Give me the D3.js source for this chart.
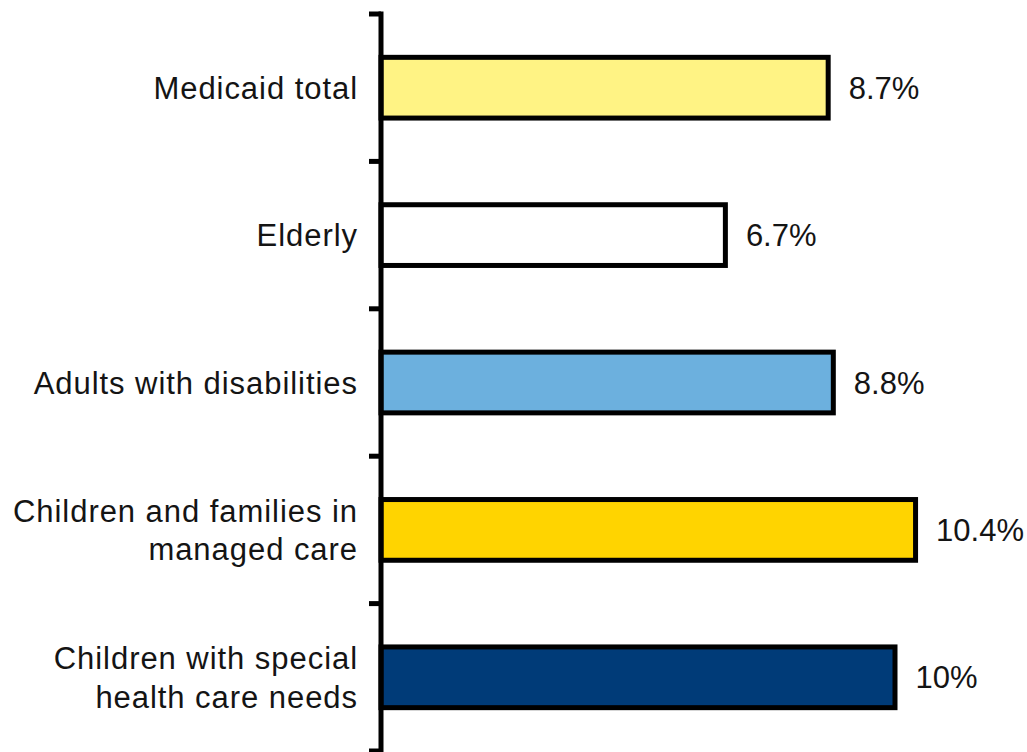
<!DOCTYPE html>
<html>
<head>
<meta charset="utf-8">
<script src="https://cdn.jsdelivr.net/npm/d3@7/dist/d3.min.js"></script>
<style>
  html, body { margin: 0; padding: 0; background: #ffffff; }
  svg { display: block; }
  text { font-family: "Liberation Sans", Arial, sans-serif; fill: #141414; }
</style>
</head>
<body>
<svg id="chart" width="1027" height="752"></svg>
<script>
// Medicaid spending growth by eligibility group
const categories = [
  "Medicaid total",
  "Elderly",
  "Adults with disabilities",
  "Children and families in\nmanaged care",
  "Children with special\nhealth care needs"
];
const values = [8.7, 6.7, 8.8, 10.4, 10];
const valueLabels = ["8.7%", "6.7%", "8.8%", "10.4%", "10%"];
const fills = ["#FFF384", "#FFFFFF", "#6CB0DE", "#FFD400", "#003B78"];

const svg = d3.select("#chart");
const axisX = 381;

const x = d3.scaleLinear().domain([0, 12]).range([axisX, axisX + 12 * 51.4]);
const y = d3.scaleBand().domain(categories).range([14, 751]).padding(0);

const barH = y.bandwidth() * 0.412;
const stroke = 5;

// bars
svg.append("g").selectAll("rect")
  .data(categories)
  .join("rect")
  .attr("x", x(0))
  .attr("y", d => y(d) + (y.bandwidth() - barH) / 2)
  .attr("width", (d, i) => x(values[i]) - x(0))
  .attr("height", barH)
  .attr("fill", (d, i) => fills[i])
  .attr("stroke", "#000")
  .attr("stroke-width", stroke);

// vertical axis with ticks at the band boundaries
const bounds = categories.map(d => y(d)).concat([y.range()[1]]);
const axis = svg.append("g");
axis.append("line")
  .attr("x1", axisX).attr("x2", axisX)
  .attr("y1", bounds[0] - 2.5).attr("y2", bounds[bounds.length - 1] + 2.5)
  .attr("stroke", "#000").attr("stroke-width", 5);
axis.selectAll("line.tick")
  .data(bounds)
  .join("line")
  .attr("class", "tick")
  .attr("x1", axisX - 12).attr("x2", axisX)
  .attr("y1", d => d).attr("y2", d => d)
  .attr("stroke", "#000").attr("stroke-width", 5);

// category labels
const lineH = 38.5;
svg.append("g").selectAll("text")
  .data(categories)
  .join("text")
  .attr("text-anchor", "end")
  .style("font-size", "31px")
  .style("letter-spacing", "0.95px")
  .each(function (d) {
    const lines = d.split("\n");
    const cy = y(d) + y.bandwidth() / 2;
    const first = cy + 11 - (lines.length - 1) * lineH / 2;
    d3.select(this).selectAll("tspan")
      .data(lines)
      .join("tspan")
      .attr("x", axisX - 23)
      .attr("y", (l, j) => first + j * lineH)
      .text(l => l);
  });

// value labels
svg.append("g").selectAll("text")
  .data(categories)
  .join("text")
  .attr("x", (d, i) => x(values[i]) + stroke / 2 + 18)
  .attr("y", d => y(d) + y.bandwidth() / 2 + 11)
  .style("font-size", "31px")
  .text((d, i) => valueLabels[i]);
</script>
</body>
</html>
